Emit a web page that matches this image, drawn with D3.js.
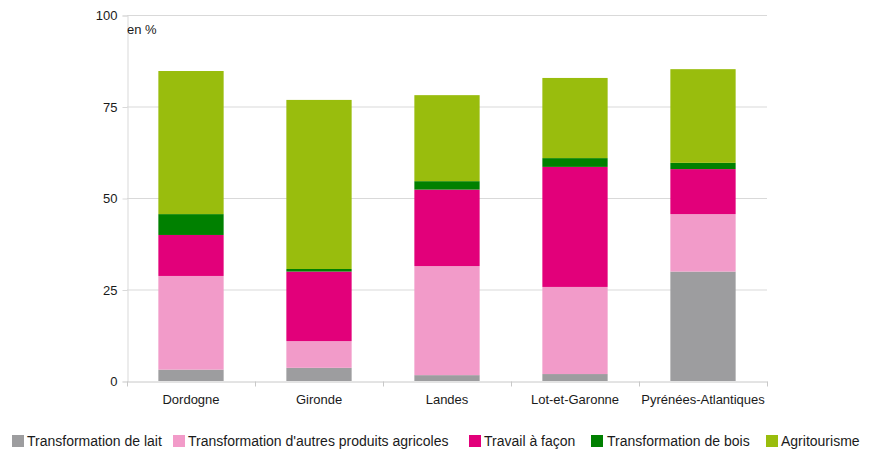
<!DOCTYPE html>
<html>
<head>
<meta charset="utf-8">
<script src="https://cdn.jsdelivr.net/npm/d3@7"></script>
<style>
body { margin: 0; background: #fff; }
svg text { font-family: "Liberation Sans", Arial, sans-serif; fill: #1a1a1a; }
</style>
</head>
<body>
<svg id="chart" width="873" height="451"></svg>
<script>
// departements
var categories = ["Dordogne", "Gironde", "Landes", "Lot-et-Garonne", "Pyrénées-Atlantiques"];
var seriesNames = ["Transformation de lait", "Transformation d'autres produits agricoles", "Travail à façon", "Transformation de bois", "Agritourisme"];
var seriesColors = ["#9d9d9f", "#f29bc9", "#e2007a", "#008000", "#99bd0d"];

// valeurs en %
var lait      = [3.1, 3.6, 1.6, 1.9, 29.9];
var autres    = [25.6, 7.3, 29.8, 23.8, 15.7];
var travail   = [11.2, 19.0, 20.9, 32.8, 12.3];
var bois      = [5.7, 0.7, 2.3, 2.4, 1.7];
var agri      = [39.1, 46.2, 23.5, 21.9, 25.6];

var yTicks = [0, 25, 50, 75, 100];

var rows = categories.map(function (c, i) {
	return { cat: c, s0: lait[i], s1: autres[i], s2: travail[i], s3: bois[i], s4: agri[i] };
});
var keys = ["s0", "s1", "s2", "s3", "s4"];
var stacked = d3.stack().keys(keys)(rows);

var svg = d3.select("#chart");
var margin = { left: 127, right: 106, top: 15, bottom: 70 };
var W = 873, H = 451;

var x = d3.scaleBand().domain(categories).range([margin.left, W - margin.right]).paddingInner(0.49).paddingOuter(0.245);
var xOuter = d3.scaleBand().domain(categories).range([margin.left, W - margin.right]);
var y = d3.scaleLinear().domain([0, 100]).range([H - margin.bottom, margin.top]);

// grid
svg.append("g").selectAll("line").data(yTicks.filter(function (d) { return d > 0; })).enter()
	.append("line")
	.attr("x1", margin.left).attr("x2", W - margin.right)
	.attr("y1", function (d) { return y(d) + 0.5; }).attr("y2", function (d) { return y(d) + 0.5; })
	.attr("stroke", "#d9d9d9").attr("stroke-width", 1);

// y axis
var yAxis = svg.append("g").attr("transform", "translate(" + (margin.left + 0.5) + ",0.5)")
	.call(d3.axisLeft(y).tickValues(yTicks).tickSize(5).tickPadding(5));
yAxis.select(".domain").attr("stroke", "#d9d9d9");
yAxis.selectAll(".tick line").attr("stroke", "#d9d9d9");
yAxis.selectAll("text").style("font-size", "13px").attr("fill", "#1a1a1a");

// bars
svg.append("g").selectAll("g").data(stacked).enter()
	.append("g").attr("fill", function (d, i) { return seriesColors[i]; })
	.selectAll("rect").data(function (d) { return d; }).enter()
	.append("rect")
	.attr("x", function (d) { return x(d.data.cat); })
	.attr("width", x.bandwidth())
	.attr("y", function (d) { return y(d[1]); })
	.attr("height", function (d) { return y(d[0]) - y(d[1]); });

// x axis
var xAxis = svg.append("g").attr("transform", "translate(0," + (y(0) + 0.5) + ")")
	.call(d3.axisBottom(xOuter).tickSize(0).tickPadding(13));
xAxis.select(".domain").attr("stroke", "#c8c8c8");
xAxis.selectAll("text").style("font-size", "13px").attr("fill", "#1a1a1a");
// separators between categories
var bounds = categories.map(function (c) { return xOuter(c); }).concat([W - margin.right]);
xAxis.selectAll(".sep").data(bounds).enter().append("line")
	.attr("x1", function (d) { return Math.round(d) + 0.5; }).attr("x2", function (d) { return Math.round(d) + 0.5; })
	.attr("y1", 0).attr("y2", 5).attr("stroke", "#c8c8c8");

svg.append("text").attr("x", margin.left).attr("y", 34)
	.style("font-size", "13px").text("en %");

// legend (positions as in the original layout)
var legendX = [12, 173, 469, 591, 766];
var legend = svg.append("g").attr("transform", "translate(0,441)");
seriesNames.forEach(function (name, i) {
	var g = legend.append("g").attr("transform", "translate(" + legendX[i] + ",0)");
	g.append("rect").attr("x", 0).attr("y", -6).attr("width", 12).attr("height", 12).attr("fill", seriesColors[i]);
	var tx = i == 3 ? 16 : 15;
	g.append("text").attr("x", tx).attr("y", 5).style("font-size", "14px").text(name);
});
</script>
</body>
</html>
